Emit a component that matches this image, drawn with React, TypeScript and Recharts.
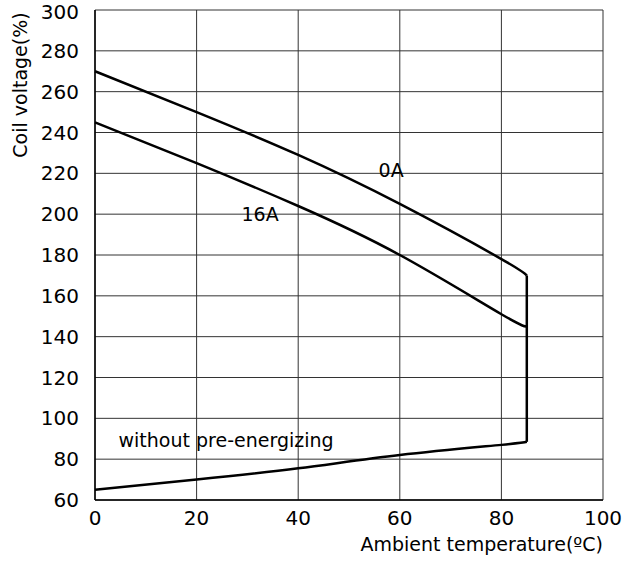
import { LineChart, Line, XAxis, YAxis, CartesianGrid, ReferenceDot } from 'recharts';

// ambient temperature (°C) vs coil voltage (%)
const temps = [0, 20, 40, 60, 80, 85];
const noLoad = [270, 250, 229, 205, 178, 170];
const load16A = [245, 225, 204, 180, 151, 145];
const withoutPre = [65, 70, 75.5, 82, 87, 88.5];
const jumpX = [85, 85];
const jumpY = [88.5, 170];

const xTicks = [0, 20, 40, 60, 80, 100];
const yTicks = [60, 80, 100, 120, 140, 160, 180, 200, 220, 240, 260, 280, 300];

const toPoints = (xs: number[], ys: number[]) => xs.map((x, i) => ({ x, y: ys[i] }));

const font = '"DejaVu Sans", sans-serif';
const tickStyle = { fontSize: 20, fill: '#000', fontFamily: font };
const noteStyle = { fontSize: 19, fill: '#000', fontFamily: font };

export default function App() {
  return (
    <div style={{ position: 'absolute', left: 0, top: 0, width: 622, height: 561, background: '#fff' }}>
      <LineChart width={622} height={561} margin={{ top: 10, right: 19, left: 0, bottom: 31 }}>
        <CartesianGrid stroke="#333" strokeWidth={1} />
        <XAxis
          type="number"
          dataKey="x"
          domain={[0, 100]}
          ticks={xTicks}
          height={30}
          tickLine={false}
          axisLine={{ stroke: '#000', strokeWidth: 1.5 }}
          tickMargin={5}
          tick={tickStyle}
          allowDuplicatedCategory={false}
        />
        <YAxis
          type="number"
          dataKey="y"
          domain={[60, 300]}
          ticks={yTicks}
          width={95}
          tickLine={false}
          axisLine={{ stroke: '#000', strokeWidth: 1.5 }}
          tickMargin={10}
          tick={tickStyle}
        />
        <Line data={toPoints(temps, noLoad)} dataKey="y" type="natural" stroke="#000" strokeWidth={2.5} dot={false} isAnimationActive={false} />
        <Line data={toPoints(temps, load16A)} dataKey="y" type="natural" stroke="#000" strokeWidth={2.5} dot={false} isAnimationActive={false} />
        <Line data={toPoints(temps, withoutPre)} dataKey="y" type="natural" stroke="#000" strokeWidth={2.5} dot={false} isAnimationActive={false} />
        <Line data={toPoints(jumpX, jumpY)} dataKey="y" type="linear" stroke="#000" strokeWidth={2.5} dot={false} isAnimationActive={false} />
        <ReferenceDot x={58.3} y={221.5} r={0} stroke="none" label={{ value: '0A', position: 'center', ...noteStyle }} />
        <ReferenceDot x={32.5} y={200} r={0} stroke="none" label={{ value: '16A', position: 'center', ...noteStyle }} />
        <ReferenceDot x={25.8} y={89.5} r={0} stroke="none" label={{ value: 'without pre-energizing', position: 'center', ...noteStyle }} />
      </LineChart>
      <div
        style={{
          position: 'absolute',
          left: 20,
          top: 85,
          transform: 'translate(-50%, -50%) rotate(-90deg)',
          whiteSpace: 'nowrap',
          fontFamily: font,
          fontSize: 19,
          lineHeight: 1,
        }}
      >
        Coil voltage(%)
      </div>
      <div
        style={{
          position: 'absolute',
          right: 19,
          top: 535,
          whiteSpace: 'nowrap',
          fontFamily: font,
          fontSize: 19,
          lineHeight: 1,
        }}
      >
        Ambient temperature(ºC)
      </div>
    </div>
  );
}
